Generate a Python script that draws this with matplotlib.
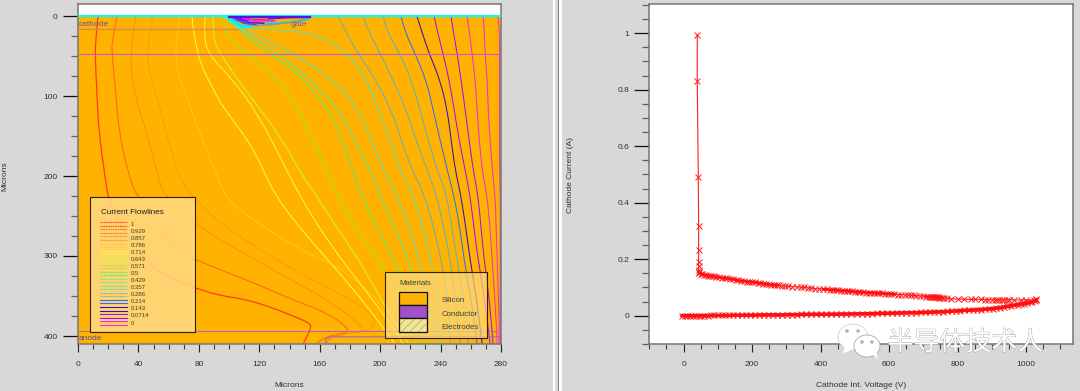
import matplotlib
matplotlib.use("Agg")
import matplotlib.pyplot as plt
import matplotlib.patheffects as pe
from matplotlib.patches import Rectangle, Polygon, Ellipse, PathPatch
from matplotlib.path import Path
from matplotlib.ticker import MultipleLocator

# left panel, flowlines (microns)
flow_y = [1, 17.5, 47.5, 80, 117.5, 155, 192.5, 226, 267.5, 305, 342.5, 380, 410]
right_a = [278, 279, 279, 279, 279, 279, 279, 279.5, 279.5, 279.5, 279.5, 279.5, 279.5]
right_b = [268.2, 268.9, 269.5, 270.9, 271.5, 272.8, 274.2, 276.2, 276.8, 277.5, 278.1, 278.8, 278.8]
right_c = [257.6, 258.9, 260.9, 262.9, 264.2, 265.6, 267.5, 270.9, 272.8, 274.2, 275.5, 276.8, 277.5]
right_d = [247, 248.3, 251, 253.6, 256.3, 258.9, 261.6, 264.9, 266.9, 268.9, 271.5, 273.5, 274.8]
right_e = [235.8, 237.7, 241.7, 245.7, 249, 252.3, 256.3, 259.6, 262.3, 264.9, 268.2, 270.9, 272.8]
right_f = [224.5, 227.2, 232.5, 239.7, 244.4, 247, 249.7, 253.6, 256.9, 259.6, 262.9, 265.6, 267.5]
right_g = [213.9, 215.9, 223.2, 230.5, 235.1, 239.7, 244.4, 249, 253, 255.6, 258.9, 262.3, 264.2]
right_h = [202, 204, 213.2, 220.5, 226.5, 231.8, 237.7, 244.4, 247.7, 251, 254.3, 256.3, 258.3]
right_i = [188.7, 192, 200, 208.6, 217.2, 223.8, 231.1, 237.7, 242.4, 246.4, 249, 251, 253]
right_j = [172.2, 176.8, 185.4, 197.4, 207.3, 213.9, 221.2, 229.8, 235.8, 240.4, 243.7, 245.7, 246.4]

p1_x = [13.2, 11.9, 11.3, 12.6, 13.9, 17.9, 19.9, 21.9, 28.5, 37.7, 51, 64.2, 77.5, 92.7, 110.6, 127.8, 143.7, 153.6, 154.3, 151, 149]
p1_y = [1, 26, 47.5, 101, 146, 201, 226, 236, 264, 289, 317.5, 330, 340, 349, 354, 364, 376, 384, 390, 402.5, 410]
p2_x = [25.8, 22.5, 22.5, 25.2, 27.2, 33.8, 39.1, 46.4, 53, 66.2, 77.5, 112, 142.4, 165, 178.8, 178.8, 162.3, 158.3]
p2_y = [1, 30, 47.5, 101, 146, 201, 226, 234, 267.5, 292.5, 305, 330, 355, 371, 390, 396, 401, 409]
p3_x = [38.4, 33.8, 37.7, 45.7, 52.9, 57.6, 77.5, 97.4, 114.6, 132.5, 147, 168.9, 188.7, 188, 166.9, 164.2]
p3_y = [1, 47.5, 101, 146, 201, 226, 259, 284, 301, 321, 336, 359, 389, 395, 400, 409]
p4_x = [49.7, 43.7, 52.3, 59.6, 67.5, 77.5, 97.4, 121.2, 145.7, 168.9, 195.4, 196.7, 168.9, 165.6, 164.2]
p4_y = [1, 47.5, 101, 155, 205, 230, 264, 292.5, 321, 342.5, 371, 392.5, 400, 402.5, 409]
p5_x = [67.5, 62.3, 72.2, 92.1, 98.7, 120.5, 147, 173.5, 202, 205.3, 205.3]
p5_y = [1, 47.5, 105, 201, 230, 261, 292.5, 314, 359, 392.5, 410]
p6_x = [75.5, 77.5, 92.1, 97.4, 115.9, 130.5, 153.6, 180.1, 203.3, 209.9]
p6_y = [1, 47.5, 101, 117.5, 164, 226, 280, 336, 392.5, 410]
p7_x = [84.1, 83.4, 86.1, 102.6, 118.5, 133.8, 147, 166.9, 190.1, 209.9, 215.2]
p7_y = [1, 24, 47.5, 80, 121, 176, 226, 286, 342.5, 392.5, 410]
p8_x = [89.4, 89.4, 92.1, 113.9, 132.5, 145, 158.3, 174.8, 192.1, 207.9, 219.2]
p8_y = [1, 24, 42.5, 101, 146, 189, 226, 274, 324, 380, 410]
m_x = [95.4, 97.4, 102.6, 133.8, 147, 158.3, 173.5, 185.4, 202, 213.2, 221.2, 223.2]
m_y = [1, 17.5, 34, 80, 121, 167.5, 230, 270, 314, 355, 392.5, 410]
l_x = [106, 109.3, 147, 168.9, 175.5, 188.7, 198.7, 209.9, 218.5, 225.2, 227.9]
l_y = [15, 26, 71, 126, 159, 230, 267.5, 307.5, 349, 386, 410]
k3_x = [106, 117.2, 147, 170.2, 181.5, 193.4, 200, 210.6, 219.9, 225.8, 230.5, 232.5]
k3_y = [15, 27.5, 67.5, 111, 149, 192.5, 226, 267.5, 311, 355, 392.5, 410]
k_x = [106, 120.5, 153.6, 178.1, 190.1, 195.4, 202, 211.3, 219.9, 226.5, 231.8, 235.8, 237.7]
k_y = [14, 26, 59, 96, 136, 161, 192.5, 226, 267.5, 311, 355, 392.5, 410]
k2_x = [106, 130.5, 153.6, 176.8, 190.1, 198.7, 206.6, 213.2, 221.9, 229.1, 233.8, 237.7, 240.4, 241.7]
k2_y = [14, 17.5, 20, 42.5, 74, 117.5, 155, 192.5, 226, 267.5, 307.5, 350, 390, 410]

# short lines bunched at the gate edge
gate_lines = [
    ([96, 100, 106], [0, 6, 15], "#50f0a0"),
    ([98, 102, 107, 114], [0, 6, 13, 14], "#00ffff"),
    ([99, 103, 108, 115], [0, 6, 12, 13], "#00e8ff"),
    ([101, 105, 110, 118], [0, 5, 9, 11], "#2060ff"),
    ([103, 108, 113, 123], [0, 5, 8, 9], "#8010f0"),
    ([106, 110, 116, 130], [0, 3, 6, 6], "#f030d0"),
    ([112, 115, 125], [0, 3, 3], "#ff8c10"),
    ([155, 151, 140, 125], [0, 5, 8, 9], "#40c8e0"),
    ([152, 146, 132, 118], [3, 6, 10, 12], "#60b0a0"),
]

flow_levels = ["1", "0.929", "0.857", "0.786", "0.714", "0.643", "0.571", "0.5",
               "0.429", "0.357", "0.286", "0.214", "0.143", "0.0714", "0"]
flow_colors = ["#ff3c10", "#ff6a10", "#ff8c10", "#ffc820", "#ffff20", "#d0ff10", "#90f010", "#50f060",
               "#50f0a0", "#50e0c0", "#60b0c0", "#3070f0", "#3010c0", "#a010f0", "#f030d0"]
material_names = ["Silicon", "Conductor", "Electrodes"]
left_xticks = [0, 40, 80, 120, 160, 200, 240, 280]
left_yticks = [0, 100, 200, 300, 400]

# right panel, cathode current vs voltage
lower_v = [-5, 3, 10, 18, 27, 35, 44, 52, 61, 70, 80, 90, 100, 111, 122, 133, 145, 157, 170, 182, 195, 208,
           221, 234, 247, 260, 274, 288, 302, 316, 330, 344, 358, 372, 386, 400, 415, 430, 445, 460, 475,
           490, 505, 520, 535, 550, 565, 580, 594, 608, 622, 636, 650, 664, 678, 692, 705, 718, 731, 744,
           757, 770, 783, 796, 808, 820, 832, 844, 856, 868, 880, 891, 902, 913, 924, 935, 945, 955, 965,
           975, 984, 993, 1002, 1010, 1018, 1025, 1030]
lower_i = [0, 0, 0, 0, 0, 0, 0, 0, 0, 0, .001, .001, .001, .001, .001, .001, .002, .002, .002, .002, .002, .002,
           .003, .003, .003, .003, .003, .003, .004, .004, .004, .0045, .0045, .005, .005, .005, .005, .0055, .0055, .006, .006,
           .0065, .0065, .007, .007, .0075, .008, .0085, .009, .009, .0095, .010, .0105, .011, .011, .0115, .012, .0125, .013, .0135,
           .014, .015, .016, .017, .018, .019, .0195, .020, .021, .022, .023, .024, .025, .027, .029, .031, .033, .035, .037,
           .039, .041, .043, .045, .047, .049, .051, .054]
upper_v = [1030, 1022, 1000, 985, 965, 950, 943, 936, 929, 922, 915, 908, 900, 890, 880, 868, 852, 838, 818, 800,
           782, 770, 760, 755, 750, 747, 744, 741, 738, 735, 732, 729, 726, 722, 716, 708, 700, 690, 680, 672,
           665, 655, 645, 635, 625, 615, 605, 596, 588, 580, 572, 564, 556, 548, 540, 532, 524, 516, 508, 500,
           492, 484, 476, 468, 460, 452, 444, 436, 428, 420, 408, 396, 384, 372, 362, 352, 342, 330, 318, 306,
           296, 288, 280, 272, 264, 256, 248, 240, 232, 224, 216, 208, 200, 192, 184, 176, 168, 160, 152, 144,
           136, 128, 120, 112, 104, 96, 90, 84, 78, 72, 66, 60, 55, 50, 46, 44]
upper_i = [.058, .056, .056, .056, .056, .056, .056, .056, .056, .056, .057, .057, .057, .057, .057, .058, .058, .058, .058, .059,
           .060, .062, .063, .064, .064, .064, .065, .065, .065, .065, .066, .066, .066, .066, .067, .068, .069, .070, .071, .072,
           .072, .073, .074, .075, .075, .076, .077, .078, .078, .079, .079, .080, .081, .081, .082, .082, .083, .084, .084, .085,
           .086, .087, .088, .089, .089, .090, .091, .092, .092, .093, .094, .095, .096, .098, .099, .100, .101, .102, .103, .104,
           .105, .106, .107, .108, .109, .110, .111, .112, .114, .115, .117, .118, .119, .120, .121, .123, .124, .125, .127, .129,
           .131, .132, .133, .134, .136, .138, .139, .140, .141, .142, .143, .144, .146, .148, .150, .155]
rise_v = [44, 44, 44, 44, 44, 43, 40, 40]
rise_i = [.162, .177, .191, .232, .318, .49, .83, .995]
right_xticks = [0, 200, 400, 600, 800, 1000]
right_yticks = [0, 0.2, 0.4, 0.6, 0.8, 1]
right_ylabels = ["0", "0.2", "0.4", "0.6", "0.8", "1"]

plt.rcParams["font.family"] = ["Liberation Sans", "Noto Sans CJK SC", "DejaVu Sans"]
plt.rcParams["font.size"] = 6
plt.rcParams["hatch.linewidth"] = 0.5
GRAY = "#d8d8d8"
W, H = 1080, 391


def style_axes(ax, major_x, major_y):
    ax.xaxis.set_minor_locator(MultipleLocator(major_x))
    ax.yaxis.set_minor_locator(MultipleLocator(major_y))
    ax.tick_params(axis="x", which="major", length=5.5, width=0.8, pad=7, color="#202020", labelcolor="#303030")
    ax.tick_params(axis="x", which="minor", length=3.5, width=0.8, color="#404040")
    ax.tick_params(axis="y", which="major", length=10.8, width=0.9, pad=4, color="#101010", labelcolor="#303030")
    ax.tick_params(axis="y", which="minor", length=5.2, width=0.9, color="#606060")
    for s in ax.spines.values():
        s.set_color("#757575")
        s.set_linewidth(1.1)


def flowline(ax, xs, ys, color, lw):
    # rounded corners: read points act as control points of a quadratic path
    pts = list(zip(xs, ys))
    verts = [pts[0]]
    codes = [Path.MOVETO]
    for a, b in zip(pts[1:-1], pts[2:]):
        verts += [a, ((a[0] + b[0]) / 2, (a[1] + b[1]) / 2)]
        codes += [Path.CURVE3, Path.CURVE3]
    verts[-1] = pts[-1]
    ax.add_patch(PathPatch(Path(verts, codes), fill=False, edgecolor=color, lw=lw, zorder=2))


fig = plt.figure(figsize=(W / 100, H / 100), dpi=100, facecolor=GRAY)

# left panel
ax = fig.add_axes([78 / W, 1 - 344 / H, 423 / W, 340 / H], facecolor="white")
ax.set_xlim(0, 280)
ax.set_ylim(410, -15)
ax.axhspan(0, 410, color="#ffb300", lw=0, zorder=1)

right_lines = [(right_a, 14), (right_b, 14), (right_c, 14), (right_d, 13), (right_e, 13), (right_f, 12),
               (right_g, 11), (right_h, 10), (right_i, 10), (right_j, 10)]
for xs, c in right_lines:
    flowline(ax, xs, flow_y, flow_colors[c], 0.75)
left_lines = [(p1_x, p1_y, 0, 0.9), (p2_x, p2_y, 1, 0.8), (p3_x, p3_y, 2, 0.7), (p4_x, p4_y, 2, 0.5),
              (p5_x, p5_y, 3, 0.7), (p6_x, p6_y, 4, 0.75), (p7_x, p7_y, 4, 0.7), (p8_x, p8_y, 5, 0.7),
              (m_x, m_y, 6, 0.75), (l_x, l_y, 7, 0.7), (k3_x, k3_y, 8, 0.7), (k_x, k_y, 9, 0.7), (k2_x, k2_y, 9, 0.7)]
for xs, ys, c, lw in left_lines:
    flowline(ax, xs, ys, flow_colors[c], lw)

# region lines
ax.plot([0, 106], [16, 16], color="#d88a50", lw=1.0, zorder=3)
ax.plot([0, 280], [47.5, 47.5], color="#c060c0", lw=0.8, zorder=3)
ax.plot([0, 280], [394, 394], color="#b06cb0", lw=0.8, zorder=3)
ax.plot([164, 164, 167, 280], [410, 403, 401, 401], color="#a060d0", lw=0.8, zorder=3)

# gate
ax.add_patch(Polygon([[99, 0], [156, 0], [154, 2.5], [140, 3], [122, 5], [110, 7], [104, 4]],
                     closed=True, facecolor="#7a14e8", edgecolor="none", zorder=3))
for xs, ys, c in gate_lines:
    ax.plot(xs, ys, color=c, lw=1.3, zorder=4)
ax.plot([0, 280], [0, 0], color="#00ffff", lw=1.6, zorder=5, solid_capstyle="butt")
ax.plot([99, 154], [1.5, 1.5], color="#5a10e0", lw=1.6, zorder=6, solid_capstyle="butt")
ax.text(0.5, 10.5, "cathode", color="#6a50a8", fontsize=6, va="center", zorder=6)
ax.text(141, 10.5, "gate", color="#6a60a8", fontsize=6, va="center", zorder=6)
ax.text(0.5, 408, "anode", color="#5a48b0", fontsize=6, va="bottom", zorder=6)

# current flowlines legend
ax.add_patch(Rectangle((8.1, 225.9), 69.6, 169.5, facecolor=(1, 0.86, 0.52, 0.85), edgecolor="#302000", lw=0.8, zorder=7))
ax.text(15, 246, "Current Flowlines", color="#202020", fontsize=5.9, va="center", zorder=8)
for n in range(len(flow_levels)):
    yy = 260 + n * 8.84
    dash = (0, (1, 0.6)) if n < 11 else "-"
    ax.plot([14.8, 32.5], [yy - 2.1, yy - 2.1], color=flow_colors[n], lw=0.8, ls=dash, zorder=8)
    ax.plot([14.8, 32.5], [yy + 2.1, yy + 2.1], color=flow_colors[n], lw=0.8, ls=dash, zorder=8)
    ax.text(35, yy, flow_levels[n], color="#404020", fontsize=4.3, va="center", zorder=8)

# materials legend
ax.add_patch(Rectangle((203.5, 320.4), 67.5, 82.1, facecolor=(1, 0.86, 0.52, 0.68), edgecolor="#302000", lw=0.8, zorder=7))
ax.text(212.6, 334.6, "Materials", color="#404030", fontsize=5.7, va="center", zorder=8)
ax.add_patch(Rectangle((212.6, 345.4), 18.4, 16.2, facecolor="#ffb300", edgecolor="#101010", lw=0.9, zorder=8))
ax.add_patch(Rectangle((212.6, 361.6), 18.4, 16.3, facecolor="#a050c8", edgecolor="#101010", lw=0.9, zorder=8))
ax.add_patch(Rectangle((212.6, 377.9), 18.4, 16.7, facecolor="#ffe090", edgecolor="#40d8a0", hatch="////", lw=0, zorder=8))
ax.add_patch(Rectangle((212.6, 377.9), 18.4, 16.7, fill=False, edgecolor="#101010", lw=0.9, zorder=8))
for name, yy in zip(material_names, [356, 372.5, 389.6]):
    ax.text(240.6, yy, name, color="#404030", fontsize=5.7, va="center", zorder=8)

ax.set_xticks(left_xticks)
ax.set_yticks(left_yticks)
style_axes(ax, 10, 25)
ax.set_xlabel("Microns", color="#303030", va="center")
ax.xaxis.set_label_coords(0.499, -0.1235)
ax.set_ylabel("Microns", color="#303030", va="center")
ax.yaxis.set_label_coords(-0.174, 0.494)

# right panel
ax2 = fig.add_axes([649.3 / W, 1 - 344 / H, 423.4 / W, 340 / H], facecolor="white")
ax2.set_xlim(-100, 1136)
ax2.set_ylim(-0.1, 1.103)
for xs, ys in [(lower_v, lower_i), (upper_v, upper_i), (rise_v, rise_i)]:
    ax2.plot(xs, ys, color="#ff2020", lw=0.8, marker="x", ms=4.6, mew=0.7, zorder=3)
# the densely sampled stretches merge into a solid band
ax2.plot(lower_v, lower_i, color="#ff1010", lw=2.6, solid_capstyle="round", zorder=3)
for a, b in [(23, 36), (45, 58), (58, 71), (83, 116)]:
    ax2.plot(upper_v[a:b], upper_i[a:b], color="#ff1010", lw=1.9, zorder=3)
ax2.set_xticks(right_xticks)
ax2.set_yticks(right_yticks, right_ylabels)
style_axes(ax2, 50, 0.05)
ax2.tick_params(axis="y", which="major", pad=3.5)
ax2.set_xlabel("Cathode Int. Voltage (V)", color="#303030", va="center")
ax2.xaxis.set_label_coords(0.5, -0.1235)
ax2.set_ylabel("Cathode Current (A)", color="#303030", va="center")
ax2.yaxis.set_label_coords(-0.185, 0.497)

# window divider and watermark, in picture pixels
over = fig.add_axes([0, 0, 1, 1], facecolor="none")
over.set_xlim(0, W)
over.set_ylim(H, 0)
over.axis("off")
over.add_patch(Rectangle((553, 0), 2, H, facecolor="white", lw=0))
over.add_patch(Rectangle((557.5, 0), 1.5, H, facecolor="#808080", lw=0))
over.add_patch(Rectangle((559, 0), 3, H, facecolor="white", lw=0))

over.add_patch(Ellipse((853, 337), 30, 26, facecolor="white", edgecolor="#c8c8c8", lw=0.5, zorder=5))
over.add_patch(Polygon([[845, 346], [843, 354], [853, 349]], facecolor="white", edgecolor="none", zorder=5))
over.add_patch(Ellipse((867, 346), 26, 22, facecolor="white", edgecolor="#a8a8a8", lw=0.6, zorder=6))
over.add_patch(Polygon([[872, 354], [878, 359], [876, 350]], facecolor="white", edgecolor="none", zorder=6))
for ex, ey in [(847, 331), (858, 331), (862, 342), (872, 342)]:
    over.add_patch(Ellipse((ex, ey), 3.5, 3.5, facecolor="#b0b0b0", edgecolor="none", zorder=7))
over.text(965.5, 343, "半导体技术人", color="white", fontsize=18.7, ha="center", va="center", zorder=8,
          path_effects=[pe.withStroke(linewidth=0.6, foreground="#a0a0a0")])

fig.savefig("out.png", dpi=100, facecolor=GRAY)
